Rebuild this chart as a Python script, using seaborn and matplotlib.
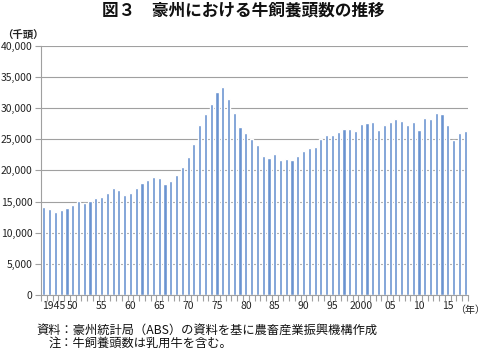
"""Australian cattle numbers, 1945-2018 (thousand head)."""

import matplotlib

matplotlib.use("Agg")
import matplotlib.pyplot as plt
import matplotlib.transforms as mtransforms
import pandas as pd
import seaborn as sns
from matplotlib.ticker import FuncFormatter, MultipleLocator


YEARS = list(range(1945, 2019))
CATTLE_THOUSANDS = [
    14100, 13800, 13300, 13600, 14000, 14500, 15100, 14700, 15100, 15500,
    15800, 16400, 17200, 16800, 16100, 16400, 17200, 17900, 18400, 19000,
    18800, 17800, 18300, 19200, 20600, 22200, 24300, 27300, 29000, 30700,
    32600, 33300, 31400, 29200, 27000, 26000, 25000, 24100, 22300, 22000,
    22600, 21700, 21800, 21700, 22300, 23100, 23600, 23800, 25000, 25700,
    25600, 26200, 26600, 26700, 26300, 27400, 27600, 27700, 26500, 27300,
    27700, 28300, 27900, 27200, 27800, 26500, 28400, 28300, 29200, 29000,
    27200, 24900, 26000, 26300,
]
LABEL_YEARS = [1945, 1950, 1955, 1960, 1965, 1970, 1975, 1980, 1985, 1990,
               1995, 2000, 2005, 2010, 2015]
LABEL_TEXT = ["1945", "50", "55", "60", "65", "70", "75", "80", "85", "90",
              "95", "2000", "05", "10", "15"]

TITLE = "図３　豪州における牛飼養頭数の推移"
UNIT_Y = "（千頭）"
UNIT_X = "（年）"
SOURCE = "資料：豪州統計局（ABS）の資料を基に農畜産業振興機構作成"
NOTE = "注：牛飼養頭数は乳用牛を含む。"

BAR_COLOR = "#6a93d0"
GRID_COLOR = "#a0a0a0"

sns.set_theme(style="white")
plt.rcParams["font.family"] = ["Noto Sans CJK JP", "DejaVu Sans"]

df = pd.DataFrame({"year": YEARS, "cattle": CATTLE_THOUSANDS})

fig = plt.figure(figsize=(4.86, 3.52), dpi=100)
ax = fig.add_axes([41 / 486, 1 - 295 / 352, 427 / 486, 249.3 / 352])

sns.barplot(data=df, x="year", y="cattle", color=BAR_COLOR, saturation=1,
            width=0.55, ax=ax)

ax.set_xlim(-0.5, len(YEARS) - 0.5)
ax.set_ylim(0, 40000)
ax.yaxis.set_major_locator(MultipleLocator(5000))
ax.yaxis.set_major_formatter(FuncFormatter(lambda v, _: f"{int(v):,}"))
ax.grid(axis="y", color=GRID_COLOR, linewidth=0.8)
ax.set_axisbelow(True)

for side in ["top", "right"]:
    ax.spines[side].set_visible(False)
for side in ["left", "bottom"]:
    ax.spines[side].set_color(GRID_COLOR)
    ax.spines[side].set_linewidth(0.8)

# labels every 5 years, tick marks between every category
label_pos = [YEARS.index(y) for y in LABEL_YEARS]
ax.set_xticks(label_pos)
ax.set_xticklabels(LABEL_TEXT)
ax.set_xticks([i - 0.5 for i in range(len(YEARS) + 1)], minor=True)
ax.tick_params(axis="x", which="major", length=0, pad=4, labelsize=7.5,
               colors="#222222")
ax.tick_params(axis="x", which="minor", length=4, width=0.8, color=GRID_COLOR,
               direction="out", bottom=True)
ax.tick_params(axis="y", which="major", length=4, width=0.8, color=GRID_COLOR,
               direction="out", left=True, pad=2, labelsize=7.5,
               labelcolor="#222222")
first = ax.get_xticklabels()[0]
first.set_horizontalalignment("left")
first.set_transform(first.get_transform()
                    + mtransforms.ScaledTranslation(-2 / 100, 0, fig.dpi_scale_trans))
ax.set_xlabel("")
ax.set_ylabel("")

fig.text(0.5, 1 - 10 / 352, TITLE, ha="center", va="center", fontsize=12,
         fontweight="bold", color="#111111")
fig.text(23 / 486, 1 - 35 / 352, UNIT_Y, ha="center", va="center",
         fontsize=7.5, fontweight="bold", color="#222222")
fig.text(0.998, 1 - 310 / 352, UNIT_X, ha="right", va="center",
         fontsize=7.2, color="#222222")
fig.text(36 / 486, 1 - 330 / 352, SOURCE, ha="left", va="center",
         fontsize=8.8, color="#111111")
fig.text(49 / 486, 1 - 343 / 352, NOTE, ha="left", va="center",
         fontsize=8.8, color="#111111")

fig.savefig("out.png", dpi=100)
